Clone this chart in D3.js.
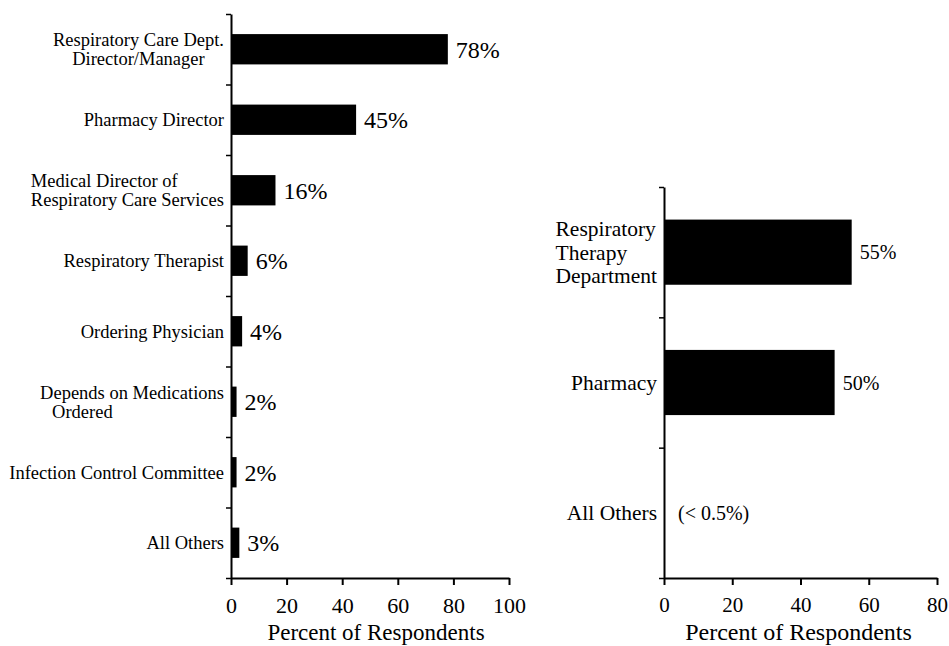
<!DOCTYPE html>
<html>
<head>
<meta charset="utf-8">
<script src="https://cdn.jsdelivr.net/npm/d3@7/dist/d3.min.js"></script>
<style>
  html, body { margin: 0; padding: 0; background: #fff; }
  svg text { font-family: "Liberation Serif", "Times New Roman", serif; fill: #000; }
</style>
</head>
<body>
<svg id="chart" width="949" height="646"></svg>
<script>
// Who decides on aerosol delivery devices (left) and who purchases them (right)
const leftCategories = [
  ["Respiratory Care Dept.", "Director/Manager"],
  ["Pharmacy Director"],
  ["Medical Director of", "Respiratory Care Services"],
  ["Respiratory Therapist"],
  ["Ordering Physician"],
  ["Depends on Medications", "Ordered"],
  ["Infection Control Committee"],
  ["All Others"]
];
const leftValues = [78, 45, 16, 6, 4, 2, 2, 3];
const leftLabels = ["78%", "45%", "16%", "6%", "4%", "2%", "2%", "3%"];
const leftTicks = [0, 20, 40, 60, 80, 100];

const rightCategories = [
  ["Respiratory", "Therapy", "Department"],
  ["Pharmacy"],
  ["All Others"]
];
const rightValues = [55, 50, 0];
const rightLabels = ["55%", "50%", "(< 0.5%)"];
const rightTicks = [0, 20, 40, 60, 80];

const axisTitle = "Percent of Respondents";

const svg = d3.select("#chart");

function drawPanel(opts) {
  const { cats, values, labels, ticks, x0, x1, y0, y1, padding,
          catSize, valSize, tickSize, tickPad, titleSize, titleY, lineGap, labelGap, align } = opts;
  const keys = cats.map((c, i) => i);
  const x = d3.scaleLinear().domain([0, ticks[ticks.length - 1]]).range([x0, x1]);
  const y = d3.scaleBand().domain(keys).range([y0, y1])
    .paddingInner(padding).paddingOuter(padding / 2);
  // boundary scale for the category separator ticks on the vertical axis
  const yb = d3.scaleLinear().domain([0, cats.length]).range([y0, y1]);

  const g = svg.append("g");

  // bars
  g.selectAll("rect.bar").data(values).join("rect")
    .attr("class", "bar")
    .attr("x", x(0))
    .attr("y", (d, i) => y(i))
    .attr("width", d => x(d) - x(0))
    .attr("height", y.bandwidth())
    .attr("fill", "#000");

  // value labels
  g.selectAll("text.val").data(values).join("text")
    .attr("class", "val")
    .attr("x", d => x(d) + (d > 0 ? 8 : 14))
    .attr("y", (d, i) => y(i) + y.bandwidth() / 2)
    .attr("dy", "0.35em")
    .attr("font-size", valSize)
    .text((d, i) => labels[i]);

  // vertical axis with separator ticks
  const yAxis = g.append("g")
    .attr("transform", `translate(${x(0)},0)`)
    .call(d3.axisLeft(yb).tickValues(d3.range(cats.length + 1))
      .tickSize(5).tickSizeOuter(0).tickFormat(""));
  yAxis.select(".domain").attr("stroke-width", 2);
  yAxis.selectAll(".tick line").attr("stroke-width", 1.5);

  // horizontal axis
  const xAxis = g.append("g")
    .attr("transform", `translate(0,${y1})`)
    .call(d3.axisBottom(x).tickValues(ticks).tickSize(7).tickSizeOuter(0).tickPadding(tickPad));
  xAxis.select(".domain").attr("stroke-width", 2);
  xAxis.selectAll(".tick line").attr("stroke-width", 2);
  xAxis.selectAll(".tick text")
    .attr("font-size", tickSize)
    .attr("font-family", "Liberation Serif, Times New Roman, serif");

  // axis title
  g.append("text")
    .attr("x", (x0 + x1) / 2 + opts.titleShift)
    .attr("y", titleY)
    .attr("text-anchor", "middle")
    .attr("font-size", titleSize)
    .text(axisTitle);

  // category labels
  cats.forEach((lines, i) => {
    const cy = y(i) + y.bandwidth() / 2;
    const t = g.append("text")
      .attr("font-size", catSize)
      .attr("y", cy);
    const n = lines.length;
    const spans = lines.map((line, k) =>
      t.append("tspan")
        .attr("y", cy + (k - (n - 1) / 2) * lineGap)
        .attr("dy", "0.35em")
        .text(line));
    const right = x(0) - labelGap;
    const widths = spans.map(s => s.node().getComputedTextLength());
    const wmax = d3.max(widths);
    const mode = align(i);
    spans.forEach((s, k) => {
      let lx;
      if (mode === "center") lx = right - wmax + (wmax - widths[k]) / 2;
      else if (mode === "left") lx = right - wmax;
      else if (mode === "indent") lx = k === 0 ? right - widths[k] : right - wmax + 12;
      else lx = right - widths[k];
      s.attr("x", lx);
    });
  });
}

drawPanel({
  cats: leftCategories, values: leftValues, labels: leftLabels, ticks: leftTicks,
  x0: 231, x1: 509, y0: 14, y1: 578, padding: 0.57,
  catSize: 18.5, valSize: 24, tickSize: 22, tickPad: 12, titleSize: 23, titleY: 640,
  lineGap: 19, labelGap: 7, titleShift: 6,
  align: i => (i === 0 ? "center" : i === 2 ? "left" : i === 5 ? "indent" : "right")
});

drawPanel({
  cats: rightCategories, values: rightValues, labels: rightLabels, ticks: rightTicks,
  x0: 664, x1: 937, y0: 187, y1: 578, padding: 0.5,
  catSize: 21.5, valSize: 20, tickSize: 21, tickPad: 12, titleSize: 24, titleY: 640,
  lineGap: 23.5, labelGap: 7, titleShift: -2,
  align: i => (i === 0 ? "left" : "right")
});
</script>
</body>
</html>
